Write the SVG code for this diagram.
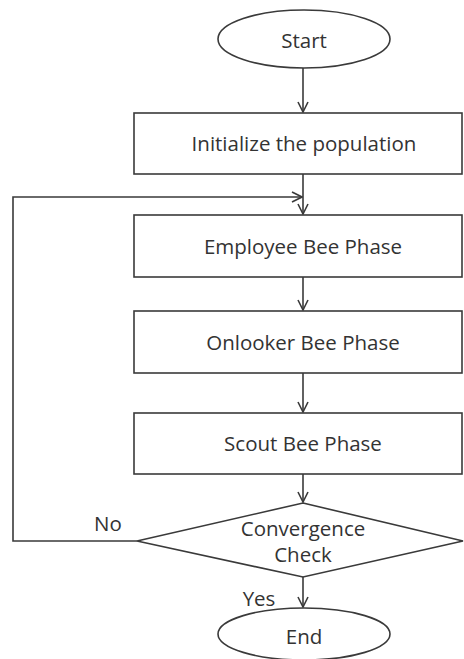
<svg xmlns="http://www.w3.org/2000/svg" width="464" height="659" viewBox="0 0 464 659">
<style>
.s{fill:#fff;stroke:#3a3a3a;stroke-width:1.6}
.c{fill:none;stroke:#3a3a3a;stroke-width:1.6}
text{font-family:"Open Sans","Liberation Sans",sans-serif;font-size:20.5px;fill:#333;text-anchor:middle;dominant-baseline:central}
</style>
<defs>
<marker id="a" viewBox="0 0 12 12" refX="11" refY="6" markerWidth="12" markerHeight="12" markerUnits="userSpaceOnUse" orient="auto">
<path d="M1,1 L11,6 L1,11" fill="none" stroke="#3a3a3a" stroke-width="1.6"/>
</marker>
</defs>
<rect width="464" height="659" fill="#fff"/>
<g id="connectors">
<line class="c" x1="303" y1="68" x2="303" y2="112" marker-end="url(#a)"/>
<line class="c" x1="303" y1="174" x2="303" y2="214" marker-end="url(#a)"/>
<line class="c" x1="303" y1="277" x2="303" y2="310" marker-end="url(#a)"/>
<line class="c" x1="303" y1="373" x2="303" y2="412" marker-end="url(#a)"/>
<line class="c" x1="303" y1="474" x2="303" y2="502" marker-end="url(#a)"/>
<line class="c" x1="303" y1="577" x2="303" y2="607" marker-end="url(#a)"/>
<polyline class="c" points="137,541 13,541 13,197 302,197" marker-end="url(#a)"/>
<text x="108" y="523">No</text>
<text x="259" y="598">Yes</text>
</g>
<g id="start">
<ellipse class="s" cx="304" cy="39" rx="86" ry="29"/>
<text x="304" y="40">Start</text>
</g>
<g id="init">
<rect class="s" x="134" y="113" width="328" height="61"/>
<text x="304" y="143">Initialize the population</text>
</g>
<g id="employee">
<rect class="s" x="134" y="215" width="328" height="62"/>
<text x="303" y="246">Employee Bee Phase</text>
</g>
<g id="onlooker">
<rect class="s" x="134" y="311" width="328" height="62"/>
<text x="303" y="342">Onlooker Bee Phase</text>
</g>
<g id="scout">
<rect class="s" x="134" y="413" width="328" height="61"/>
<text x="303" y="443">Scout Bee Phase</text>
</g>
<g id="check">
<polygon class="s" points="303,503 463,541 303,577 137,541"/>
<text x="303" y="528">Convergence</text>
<text x="303" y="554">Check</text>
</g>
<g id="end">
<ellipse class="s" cx="304" cy="634" rx="86" ry="26"/>
<text x="304" y="636">End</text>
</g>
</svg>
